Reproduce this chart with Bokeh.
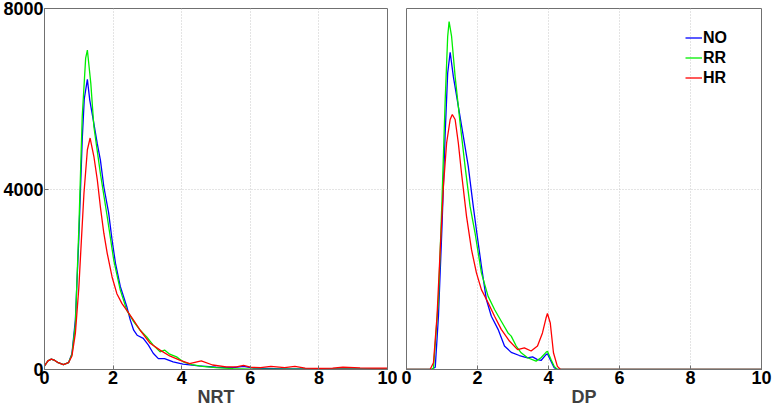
from bokeh.plotting import figure
from bokeh.layouts import row
from bokeh.models import FixedTicker, Legend, LegendItem, Range1d
from bokeh.embed import file_html
from bokeh.resources import INLINE

# ---------------- data ----------------
series_names = ["NO", "RR", "HR"]
series_colors = ["#0000ff", "#00ee00", "#ff0000"]
x_ticks = [0, 2, 4, 6, 8, 10]
y_ticks = [0, 4000, 8000]
panel_labels = ["NRT", "DP"]

nrt_no_x = [0, 0.1, 0.2, 0.3, 0.4, 0.55, 0.7, 0.8, 0.9, 1.0, 1.1, 1.16, 1.25, 1.32, 1.44, 1.54, 1.63, 1.73,
            1.87, 1.97, 2.07, 2.21, 2.4, 2.5, 2.6, 2.7, 2.88, 3.03, 3.17, 3.32, 3.5, 3.75, 4.04, 4.5, 5.0,
            5.5, 5.8, 6.1, 7.0, 8.0, 9.0, 10.0]
nrt_no_y = [80, 190, 230, 200, 150, 110, 150, 350, 1100, 2900, 5100, 6000, 6430, 5970, 5450, 5000, 4640,
            4050, 3470, 2870, 2350, 1840, 1390, 1100, 870, 760, 690, 540, 360, 240, 240, 170, 120, 80, 50,
            40, 70, 30, 15, 15, 15, 15]

nrt_rr_x = [0, 0.1, 0.2, 0.3, 0.4, 0.55, 0.7, 0.8, 0.9, 1.0, 1.1, 1.2, 1.25, 1.35, 1.44, 1.63, 1.83, 2.02,
            2.21, 2.4, 2.6, 2.79, 2.98, 3.17, 3.37, 3.5, 3.65, 3.85, 4.04, 4.3, 4.6, 5.0, 5.5, 6.0, 7.0,
            8.0, 9.0, 10.0]
nrt_rr_y = [80, 190, 230, 200, 150, 110, 150, 330, 1000, 3100, 5600, 6900, 7080, 6340, 5380, 4340, 3380,
            2420, 1760, 1310, 1060, 870, 720, 540, 390, 430, 340, 280, 170, 110, 70, 40, 20, 10, 10, 10,
            10, 10]

nrt_hr_x = [0, 0.1, 0.2, 0.3, 0.4, 0.55, 0.7, 0.8, 0.9, 1.0, 1.06, 1.15, 1.25, 1.33, 1.44, 1.54, 1.63,
            1.73, 1.83, 1.97, 2.11, 2.26, 2.4, 2.6, 2.79, 3.08, 3.37, 3.65, 3.94, 4.23, 4.57, 4.9, 5.3,
            5.6, 5.8, 6.0, 6.3, 6.6, 7.0, 7.3, 7.6, 8.0, 8.4, 8.7, 9.2, 9.6, 10.0]
nrt_hr_y = [80, 190, 230, 200, 150, 110, 150, 300, 800, 1800, 2650, 3900, 4870, 5130, 4720, 4200, 3600,
            3020, 2570, 2050, 1680, 1460, 1310, 1090, 870, 580, 430, 300, 210, 130, 190, 100, 60, 60, 90,
            50, 40, 70, 40, 70, 30, 25, 30, 50, 35, 30, 30]

dp_no_x = [0, 0.7, 0.81, 0.9, 1.0, 1.09, 1.16, 1.23, 1.32, 1.46, 1.6, 1.74, 1.88, 1.98, 2.11, 2.25, 2.39,
           2.58, 2.76, 2.95, 3.18, 3.41, 3.55, 3.69, 3.79, 3.93, 3.97, 4.07, 4.16, 4.25, 10]
dp_no_y = [0, 0, 50, 1180, 3170, 5240, 6570, 7030, 6490, 5830, 5170, 4500, 3620, 3030, 2290, 1550, 1180,
           890, 520, 380, 310, 260, 280, 220, 200, 330, 350, 185, 40, 0, 0]

dp_rr_x = [0, 0.7, 0.76, 0.9, 1.0, 1.09, 1.16, 1.2, 1.27, 1.37, 1.51, 1.65, 1.79, 1.93, 2.11, 2.3, 2.48,
           2.67, 2.86, 2.95, 3.09, 3.23, 3.41, 3.65, 3.79, 3.93, 3.97, 4.07, 4.16, 4.25, 10]
dp_rr_y = [0, 0, 30, 1550, 3760, 5980, 7380, 7710, 7380, 6490, 5460, 4500, 3620, 3030, 2140, 1620, 1330,
           1070, 810, 740, 520, 370, 260, 185, 260, 380, 405, 220, 70, 0, 0]

dp_hr_x = [0, 0.62, 0.67, 0.76, 0.86, 0.95, 1.04, 1.13, 1.23, 1.29, 1.37, 1.46, 1.55, 1.69, 1.83, 1.97,
           2.11, 2.3, 2.48, 2.67, 2.9, 3.13, 3.32, 3.51, 3.69, 3.83, 3.93, 3.97, 4.05, 4.14, 4.25, 4.34, 10]
dp_hr_y = [0, 0, 10, 150, 1180, 2660, 4060, 5020, 5540, 5650, 5540, 5020, 4350, 3400, 2660, 2140, 1770,
           1480, 1180, 890, 630, 440, 480, 410, 520, 810, 1140, 1240, 1030, 370, 70, 0, 0]

panels = [
    [(nrt_no_x, nrt_no_y), (nrt_rr_x, nrt_rr_y), (nrt_hr_x, nrt_hr_y)],
    [(dp_no_x, dp_no_y), (dp_rr_x, dp_rr_y), (dp_hr_x, dp_hr_y)],
]

# ---------------- styling ----------------
FONT = "Liberation Sans"
FRAME = "#707070"
H = 409


def make_panel(idx, width, border_left, border_right, show_y):
    p = figure(width=width, height=H, x_range=Range1d(0, 10), y_range=Range1d(0, 8000),
               output_backend="svg", toolbar_location=None,
               min_border_left=border_left, min_border_right=border_right,
               min_border_top=8, min_border_bottom=10)
    p.background_fill_color = "white"
    p.border_fill_color = "white"
    p.outline_line_color = FRAME
    p.outline_line_width = 1

    p.xaxis.ticker = FixedTicker(ticks=x_ticks)
    p.yaxis.ticker = FixedTicker(ticks=y_ticks)
    for ax in (p.xaxis[0], p.yaxis[0]):
        ax.axis_line_color = FRAME
        ax.major_tick_line_color = FRAME
        ax.major_tick_in = 4
        ax.major_tick_out = 0
        ax.minor_tick_line_color = None
        ax.major_label_text_font = FONT
        ax.major_label_text_font_style = "bold"
        ax.major_label_text_font_size = "18px"
        ax.major_label_text_color = "black"
        ax.major_label_standoff = 1
    p.xaxis.axis_label = panel_labels[idx]
    p.xaxis.axis_label_text_font = FONT
    p.xaxis.axis_label_text_font_style = "bold"
    p.xaxis.axis_label_text_font_size = "18px"
    p.xaxis.axis_label_text_color = "#404040"
    p.xaxis.axis_label_standoff = 0
    if not show_y:
        p.yaxis.visible = False

    for g in (p.xgrid[0], p.ygrid[0]):
        g.grid_line_color = "#c8c8c8"
        g.grid_line_dash = "1 2"
        g.grid_line_width = 1
    p.xgrid.ticker = FixedTicker(ticks=x_ticks)
    p.ygrid.ticker = FixedTicker(ticks=y_ticks)

    renderers = []
    for (xs, ys), color in zip(panels[idx], series_colors):
        r = p.line(xs, ys, line_color=color, line_width=1.3)
        renderers.append(r)
    return p, renderers


p1, _ = make_panel(0, 397, 38, 10, True)
p2, rs = make_panel(1, 376, 9, 12, False)

legend = Legend(items=[LegendItem(label=n, renderers=[r]) for n, r in zip(series_names, rs)],
                location=(279, 282))
legend.border_line_color = None
legend.background_fill_alpha = 0
legend.label_text_font = FONT
legend.label_text_font_style = "bold"
legend.label_text_font_size = "16px"
legend.label_text_color = "black"
legend.glyph_width = 17
legend.glyph_height = 19
legend.label_height = 19
legend.spacing = 1
legend.padding = 0
legend.margin = 0
legend.label_standoff = 1
p2.add_layout(legend, "center")

layout = row(p1, p2)
open("out.html", "w").write(file_html(layout, INLINE))
